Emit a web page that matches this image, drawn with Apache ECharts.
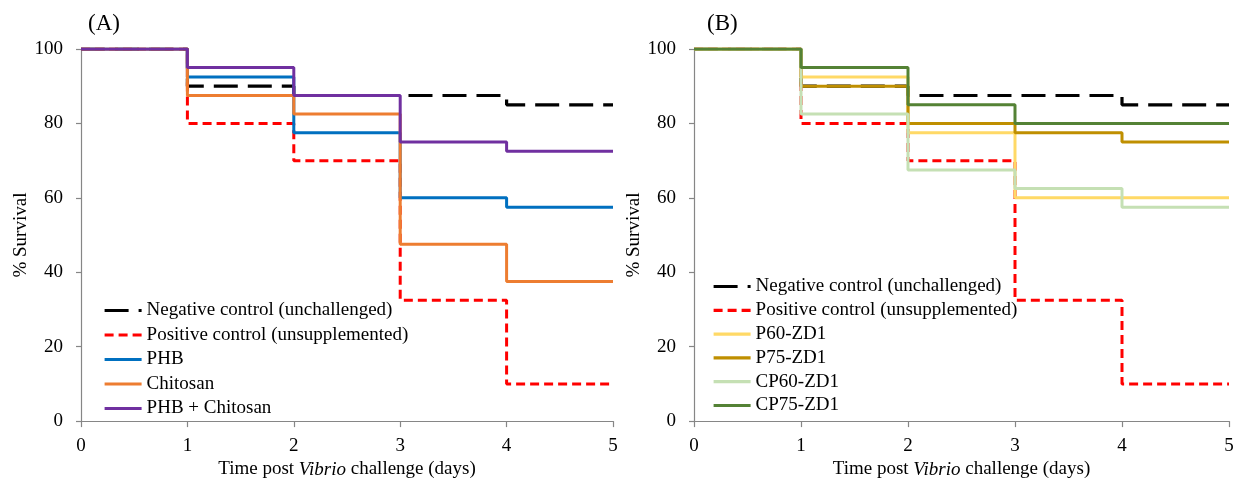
<!DOCTYPE html>
<html>
<head>
<meta charset="utf-8">
<script src="https://cdn.jsdelivr.net/npm/echarts@6/dist/echarts.min.js"></script>
<style>
  html, body { margin: 0; padding: 0; background: #fff; }
  #chart { width: 1238px; height: 484px; }
</style>
</head>
<body>
<div id="chart"></div>
<script>
// Days after challenge (x positions of each survival step)
const days = [0, 1, 2, 3, 4, 5];

// Shared controls
const negativeControl = [100, 90, 87.5, 87.5, 85, 85];
const positiveControl = [100, 80, 70, 32.5, 10, 10];

// Panel A treatments
const phb = [100, 92.5, 77.5, 60, 57.5, 57.5];
const chitosan = [100, 87.5, 82.5, 47.5, 37.5, 37.5];
const phbChitosan = [100, 95, 87.5, 75, 72.5, 72.5];

// Panel B treatments
const p60 = [100, 92.5, 77.5, 60, 60, 60];
const p75 = [100, 90, 80, 77.5, 75, 75];
const cp60 = [100, 82.5, 67.5, 62.5, 57.5, 57.5];
const cp75 = [100, 95, 85, 80, 80, 80];

const yTicks = [0, 20, 40, 60, 80, 100];

const NEG = 'Negative control (unchallenged)';
const POS = 'Positive control (unsupplemented)';

const FONT = 'Liberation Serif';
const axisGrey = '#868686';

function pts(vals) { return days.map((d, i) => [d, vals[i]]); }

function stepSeries(name, vals, panel, color, dash, width) {
  return {
    name: name,
    type: 'line',
    step: 'end',
    xAxisIndex: panel,
    yAxisIndex: panel,
    symbol: 'none',
    data: pts(vals),
    lineStyle: { color: color, width: width || 3, type: dash || 'solid' },
    itemStyle: { color: color },
    emphasis: { disabled: true },
    animation: false
  };
}

function xAxisFor(panel) {
  return {
    type: 'value', gridIndex: panel, min: days[0], max: days[days.length - 1], interval: 1,
    axisLine: { show: true, lineStyle: { color: axisGrey, width: 1.2 } },
    axisTick: { show: true, length: 6, lineStyle: { color: axisGrey, width: 1.2 } },
    splitLine: { show: false },
    axisLabel: { color: '#000', fontFamily: FONT, fontSize: 19, margin: 15 },
    name: '{a|Time post }{i|Vibrio}{a| challenge (days)}',
    nameLocation: 'middle',
    nameGap: 37,
    nameTextStyle: {
      rich: {
        a: { fontFamily: FONT, fontSize: 19, color: '#000' },
        i: { fontFamily: FONT, fontSize: 19, color: '#000', fontStyle: 'italic' }
      }
    }
  };
}

function yAxisFor(panel) {
  return {
    type: 'value', gridIndex: panel, min: yTicks[0], max: yTicks[yTicks.length - 1], interval: 20,
    axisLine: { show: true, lineStyle: { color: axisGrey, width: 1.2 } },
    axisTick: { show: true, length: 5, lineStyle: { color: axisGrey, width: 1.2 } },
    splitLine: { show: false },
    axisLabel: { color: '#000', fontFamily: FONT, fontSize: 19, margin: 18 },
    name: '% Survival',
    nameLocation: 'middle',
    nameGap: 48,
    nameTextStyle: { fontFamily: FONT, fontSize: 19, color: '#000' }
  };
}

const negDash = [24, 10];
const posDash = [9, 5];

const series = [
  stepSeries(NEG, negativeControl, 0, '#000000', negDash, 3.2),
  stepSeries(POS, positiveControl, 0, '#FF0000', posDash, 3),
  stepSeries('PHB', phb, 0, '#0070C0'),
  stepSeries('Chitosan', chitosan, 0, '#ED7D31'),
  stepSeries('PHB + Chitosan', phbChitosan, 0, '#7030A0'),

  stepSeries(NEG, negativeControl, 1, '#000000', negDash, 3.2),
  stepSeries(POS, positiveControl, 1, '#FF0000', posDash, 3),
  stepSeries('P60-ZD1', p60, 1, '#FFD966'),
  stepSeries('P75-ZD1', p75, 1, '#BF8F00'),
  stepSeries('CP60-ZD1', cp60, 1, '#C5E0B4'),
  stepSeries('CP75-ZD1', cp75, 1, '#548235')
];

// Legend keys show only the line sample, no marker
const legendBase = {
  orient: 'vertical',
  padding: 0,
  itemWidth: 37,
  itemHeight: 19,
  selectedMode: false,
  itemStyle: { opacity: 0 },
  lineStyle: { width: 3.2 },
  textStyle: { fontFamily: FONT, fontSize: 19, color: '#000', lineHeight: 19 }
};

const option = {
  backgroundColor: '#ffffff',
  animation: false,
  title: [
    { text: '(A)', left: 88, top: 12, padding: 0, textStyle: { fontFamily: FONT, fontSize: 23, fontWeight: 'normal', color: '#000' } },
    { text: '(B)', left: 707, top: 12, padding: 0, textStyle: { fontFamily: FONT, fontSize: 23, fontWeight: 'normal', color: '#000' } }
  ],
  grid: [
    { left: 81, right: 625, top: 49, bottom: 60 },
    { left: 694, right: 9, top: 49, bottom: 60 }
  ],
  xAxis: [xAxisFor(0), xAxisFor(1)],
  yAxis: [yAxisFor(0), yAxisFor(1)],
  legend: [
    Object.assign({}, legendBase, {
      left: 103, top: 301, itemGap: 5.5,
      data: [NEG, POS, 'PHB', 'Chitosan', 'PHB + Chitosan']
    }),
    Object.assign({}, legendBase, {
      left: 712, top: 277, itemGap: 4.8,
      data: [NEG, POS, 'P60-ZD1', 'P75-ZD1', 'CP60-ZD1', 'CP75-ZD1']
    })
  ],
  series: series
};

const chart = echarts.init(document.getElementById('chart'), null, { renderer: 'canvas' });
chart.setOption(option);
</script>
</body>
</html>
